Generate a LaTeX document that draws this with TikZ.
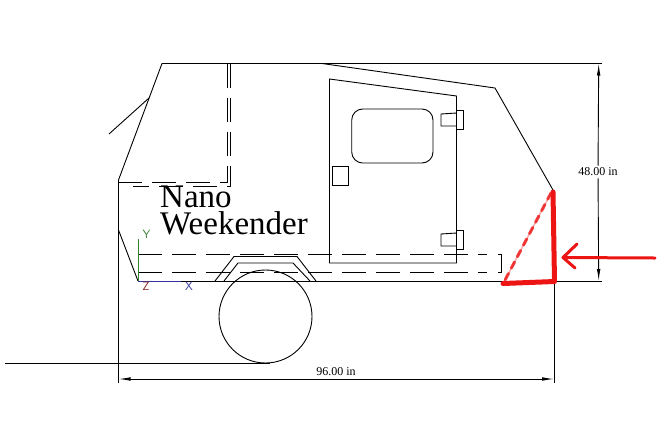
\documentclass[tikz,border=0pt]{standalone}
\usepackage{fontspec}
\setmainfont{Liberation Serif}
\usetikzlibrary{arrows.meta, positioning}
\definecolor{trailerred}{rgb}{0.93, 0.08, 0.08}
\definecolor{axisgreen}{rgb}{0.2, 0.5, 0.2}
\definecolor{axisblue}{rgb}{0.2, 0.2, 0.6}
\definecolor{axisred}{rgb}{0.55, 0.15, 0.15}
\tikzset{
  outline/.style = {draw=black, line width=0.9pt},
  hidden/.style = {draw=black, line width=0.9pt, dash pattern=on 24pt off 10pt},
  dimline/.style = {draw=black, line width=0.9pt, >={Latex[length=12pt,width=3.6pt]}},
  dimlabel/.style = {font=\fontsize{12}{12}\selectfont, inner sep=2pt},
  axislabel/.style = {font=\sffamily\fontsize{12}{12}\selectfont, inner sep=0pt},
  redmark/.style = {draw=trailerred, line cap=round, line join=round}
}
\begin{document}
\begin{tikzpicture}[x=1pt, y=-1pt]
  \useasboundingbox (0,0) rectangle (663,424);
  % body
  \coordinate (roofL) at (162,63.5);
  \coordinate (roofM) at (322,63.5);
  \coordinate (roofR) at (495,88);
  \coordinate (nose) at (553,190);
  \coordinate (cowl) at (118.5,180);
  \coordinate (floorL) at (138,281);
  \draw[outline] (cowl) -- (roofL) -- (roofM) -- (roofR) -- (nose);
  \draw[outline] (109,134) -- (149,98);
  \draw[outline] (118.5,230) -- (floorL);
  \draw[outline] (floorL) -- (602,281);
  % cabin, hidden lines
  \draw[hidden] (227.5,63.5) -- (227.5,182) -- (118.5,182);
  \draw[hidden] (230.7,63.5) -- (230.7,186) -- (133,186);
  \draw[hidden] (138,254.5) -- (487,254.5);
  \draw[hidden] (138,272.5) -- (487,272.5);
  \draw[outline] (498,254.5) -- (501.7,254.5) -- (501.7,272.5) -- (498,272.5);
  % wheel and arch
  \draw[outline] (265.5,316.5) circle [radius=46.5pt];
  \draw[outline] (215,281) -- (234,256.5) -- (297,256.5) -- (316,281);
  \draw[outline] (224,281) -- (238,263) -- (293,263) -- (310,281);
  % door
  \draw[outline] (329.5,79) -- (456.5,96) -- (456.5,263) -- (329.5,263) -- cycle;
  \draw[outline, rounded corners=11pt] (351.7,109) rectangle (433,163);
  \draw[outline] (332,166) rectangle (348,185);
  \foreach \y in {110, 230}{
    \draw[outline] (456.5,\y) rectangle (463.7,\y+19);
    \draw[outline] (456.5,\y+3) -- (441,\y+4) -- (441,\y+16) -- (456.5,\y+16);
  }
  % axes
  \draw[axisgreen, line width=0.9pt] (floorL) -- (138,239);
  \draw[axisblue, line width=0.9pt] (floorL) -- (181,281);
  \node[axislabel, text=axisgreen] (labY) at (146.5,234) {Y};
  \node[axislabel, text=axisred] (labZ) at (146,286) {Z};
  \node[axislabel, text=axisblue] (labX) at (189,286) {X};
  % title
  \node[anchor=north west, align=left, inner sep=0pt, font=\fontsize{33}{27}\selectfont] (title) at (160,186) {Nano\\Weekender};
  % dimensions
  \coordinate (dimtop) at (598.7,63.5);
  \coordinate (dimbot) at (598.7,281);
  \coordinate (dimL) at (118.5,379);
  \coordinate (dimR) at (554,379);
  \node[dimlabel] (lab48) at (598,172) {48.00 in};
  \node[dimlabel] (lab96) at (336,372) {96.00 in};
  \draw[outline] (roofM) -- (602,63.5);
  \draw[dimline, ->] (lab48) -- (dimtop);
  \draw[dimline, ->] (lab48) -- (dimbot);
  \draw[dimline, <->] (dimL) -- (dimR);
  \draw[outline] (cowl) -- (118.5,383);
  \draw[outline] (554,283) -- (554,383);
  \draw[outline] (5,363) -- (270,363);
  % red markup
  \draw[redmark, line width=1.5pt, opacity=0.35] (551,193) -- (504,282);
  \draw[redmark, line width=3pt, opacity=0.8, dash pattern=on 7pt off 6pt] (551,193) -- (504,282);
  \draw[redmark, line width=5pt] (553,192) -- (554.5,281.5) -- (503,283.5);
  \draw[redmark, line width=3pt] (655,258) -- (563,257.5);
  \draw[redmark, line width=3pt] (577,244) -- (563,257.5) -- (575,268);
\end{tikzpicture}
\end{document}
